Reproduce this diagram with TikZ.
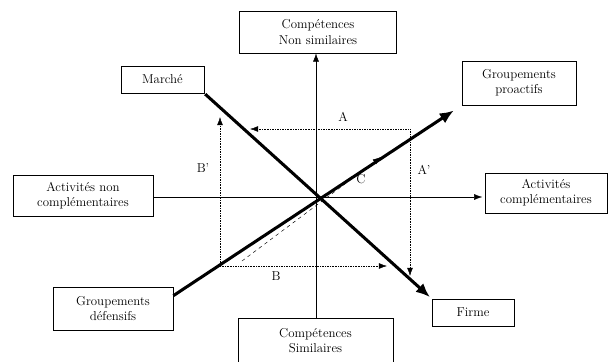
\documentclass[tikz,border=0pt]{standalone}
\usepackage{tikz}
\usetikzlibrary{arrows.meta}
\tikzstyle{box} = [rectangle, draw=black, semithick, align=center, inner sep=1pt,
font=\fontsize{11}{13}\selectfont]
\tikzstyle{lab} = [inner sep=0pt, font=\fontsize{11}{13}\selectfont]
\tikzstyle{axis} = [thin,->,>={Latex[length=7pt,width=5pt]}]
\tikzstyle{force} = [line width=2.6pt,->,>={Latex[length=12pt,width=10pt]}]
\tikzstyle{move} = [densely dotted,->,>={Latex[length=7pt,width=5pt]}]
\tikzstyle{slide} = [dashed,->,>={Latex[length=7pt,width=5pt]}]

\begin{document}
\begin{tikzpicture}[x=0.03cm,y=-0.03cm]
                 \useasboundingbox (0,0) rectangle (611,362);
                 \node (nonsim) [box, minimum width=4.71cm, minimum height=1.26cm] at (318,32) {Compétences\\Non similaires};
                 \node (simil) [box, minimum width=4.65cm, minimum height=1.35cm] at (315.5,340.5) {Compétences\\Similaires};
                 \node (marche) [box, minimum width=2.49cm, minimum height=0.81cm] at (162.5,79.5) {Marché};
                 \node (proact) [box, minimum width=3.42cm, minimum height=1.32cm] at (519,83) {Groupements\\proactifs};
                 \node (noncompl) [box, minimum width=4.2cm, minimum height=1.23cm] at (83,195.5) {Activités non\\complémentaires};
                 \node (compl) [box, minimum width=3.66cm, minimum height=1.2cm] at (546,193) {Activités\\complémentaires};
                 \node (defens) [box, minimum width=3.6cm, minimum height=1.29cm] at (113,308.5) {Groupements\\défensifs};
                 \node (firme) [box, minimum width=2.46cm, minimum height=0.81cm] at (473,312.5) {Firme};
                 % axes
                 \coordinate (O) at (316,197);
                 \draw [axis] (O |- simil.north) -- (O |- nonsim.south);
                 \draw [axis, shorten >=2pt] (noncompl.east |- O) -- (compl.west |- O);
                 % main moves
                 \draw [force, shorten <=1pt, shorten >=2pt] (marche.south east) -- (firme.north west);
                 \draw [force, shorten >=8pt] (defens.12) -- (proact.south west);
                 % shifts A, A', B, B', C
                 \coordinate (ka) at (410,129);
                 \coordinate (kb) at (220,266);
                 \coordinate (ta) at (250,129);
                 \coordinate (tap) at (410,276);
                 \coordinate (tb) at (387,266);
                 \coordinate (tbp) at (220,117);
                 \coordinate (c0) at (242,261);
                 \coordinate (c1) at (381,157);
                 \draw [move] (ka) -- (ta);
                 \draw [move] (ka) -- (tap);
                 \draw [move] (kb) -- (tb);
                 \draw [move] (kb) -- (tbp);
                 \draw [slide] (c0) -- (c1);
                 \node (la) [lab] at (343,117) {A};
                 \node (lap) [lab] at (424,170) {A'};
                 \node (lb) [lab] at (276,276) {B};
                 \node (lbp) [lab] at (203,168) {B'};
                 \node (lc) [lab] at (361,179) {C};
             \end{tikzpicture}
\end{document}
